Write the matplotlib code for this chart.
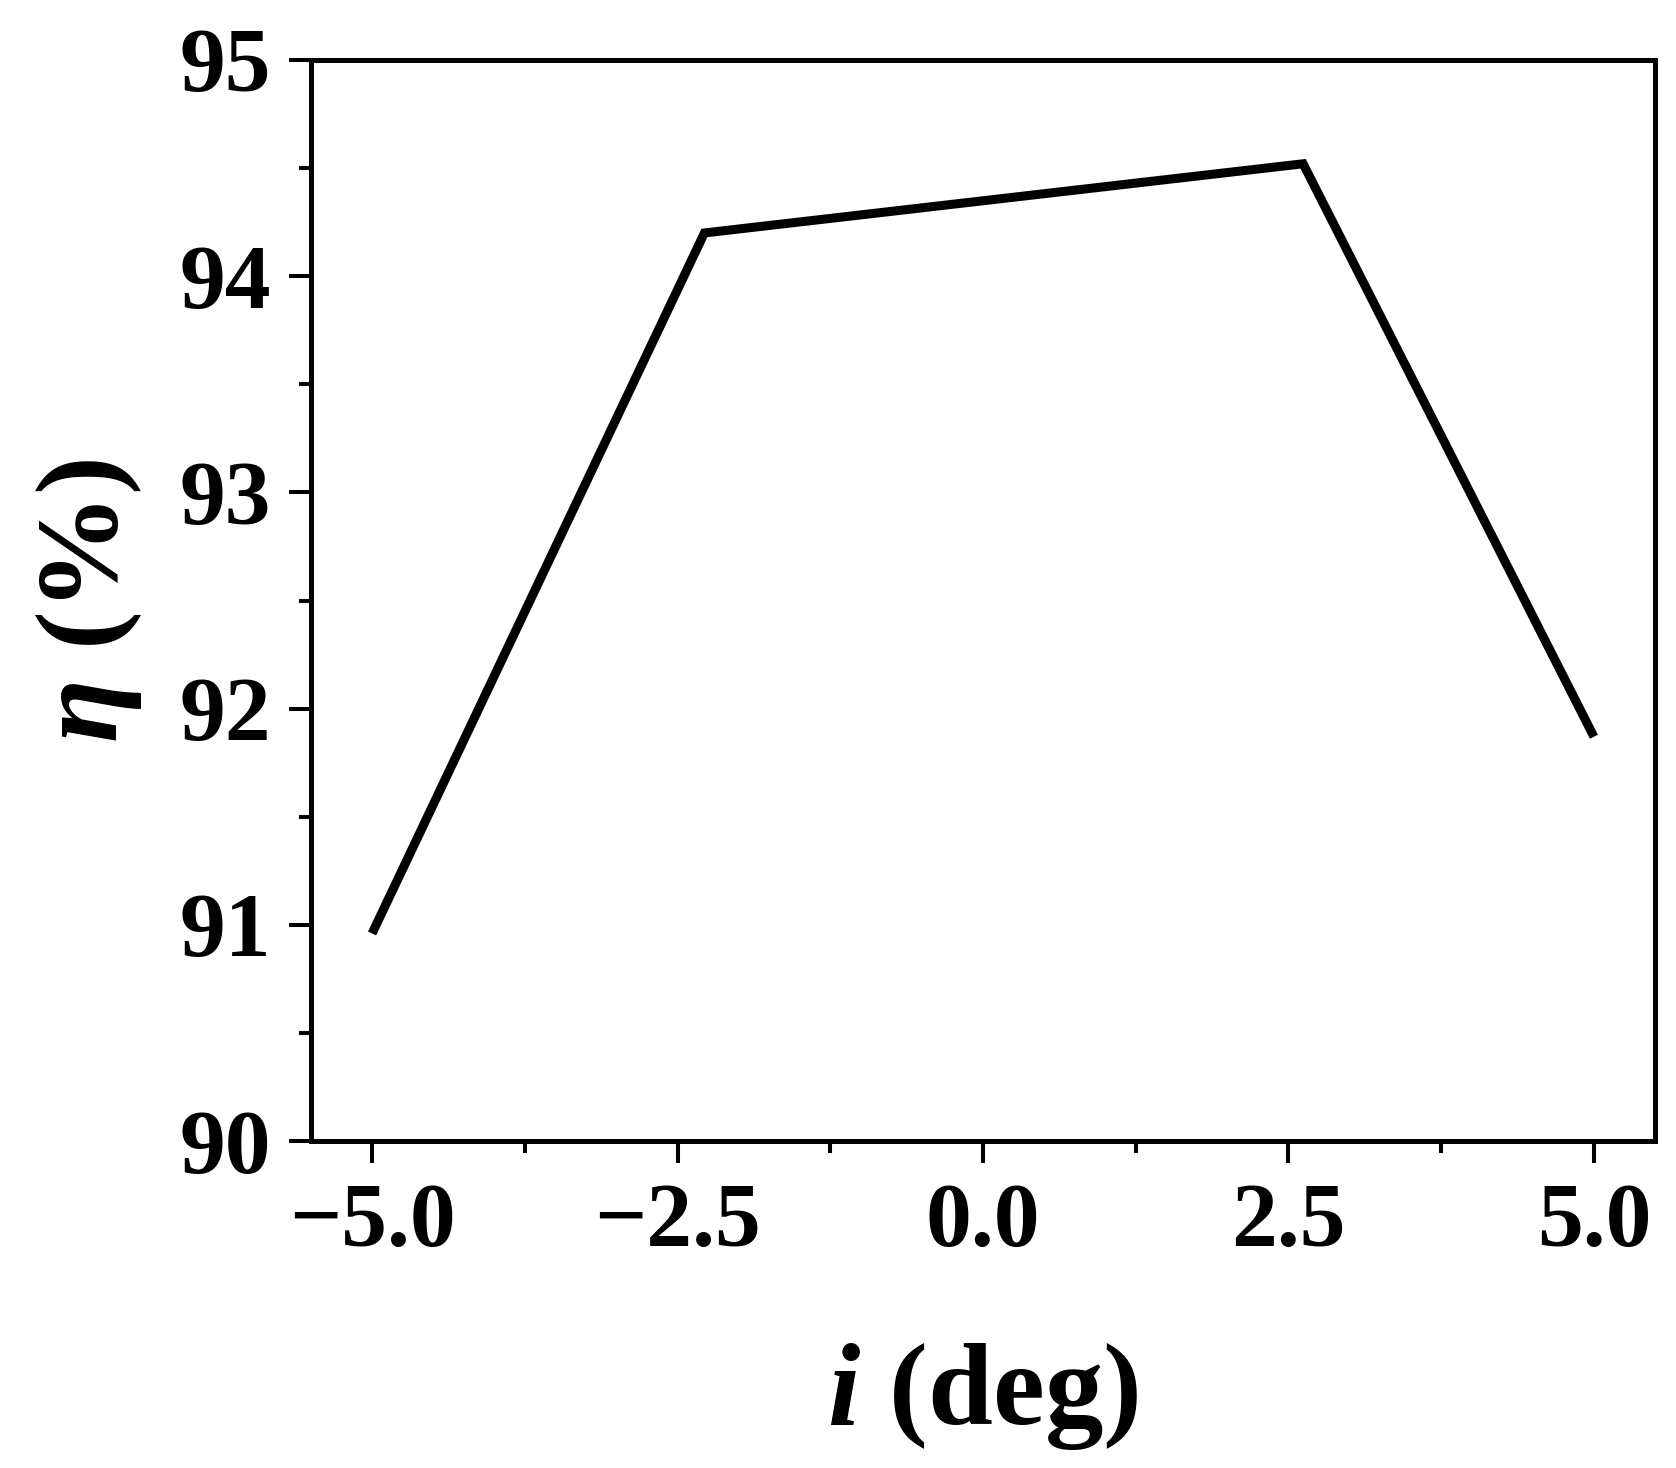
import matplotlib
matplotlib.use('Agg')
import matplotlib.pyplot as plt
from matplotlib.ticker import MultipleLocator

# data
incidence = [-5.0, -2.28, 2.62, 5.0]
efficiency = [90.96, 94.20, 94.52, 91.87]

x_ticks = [-5.0, -2.5, 0.0, 2.5, 5.0]
y_ticks = [90, 91, 92, 93, 94, 95]

plt.rcParams['font.family'] = 'Liberation Serif'
plt.rcParams['font.weight'] = 'bold'
plt.rcParams['mathtext.fontset'] = 'custom'
plt.rcParams['mathtext.rm'] = 'Liberation Serif:bold'
plt.rcParams['mathtext.bf'] = 'Liberation Serif:bold'
plt.rcParams['mathtext.it'] = 'Liberation Serif:italic:bold'

fig = plt.figure(figsize=(16.76, 14.68), dpi=100)
ax = fig.add_axes([311 / 1676, 1 - 1141 / 1468, (1655 - 311) / 1676, (1141 - 60) / 1468])

ax.plot(incidence, efficiency, color='black', lw=6.5,
        solid_joinstyle='miter', solid_capstyle='butt')

ax.set_xlim(-5.5, 5.5)
ax.set_ylim(90, 95)
ax.set_xticks(x_ticks)
ax.set_xticklabels([f'{v:.1f}'.replace('-', '\u2212') for v in x_ticks])
ax.set_yticks(y_ticks)
ax.xaxis.set_minor_locator(MultipleLocator(1.25))
ax.yaxis.set_minor_locator(MultipleLocator(0.5))

for s in ax.spines.values():
    s.set_linewidth(3.6)

ax.tick_params(axis='both', which='major', direction='out', length=16, width=2.9,
               labelsize=66)
ax.tick_params(axis='both', which='minor', direction='out', length=8.6, width=2.9)
ax.tick_params(axis='x', which='major', pad=14)
ax.tick_params(axis='y', which='major', pad=13)

ax.set_xlabel(r'$i$ (deg)', fontsize=84, fontweight='bold', labelpad=55)
ax.set_ylabel(r'$\eta$ (%)', fontsize=84, fontweight='bold', labelpad=25)

fig.savefig('out.png', dpi=100)
